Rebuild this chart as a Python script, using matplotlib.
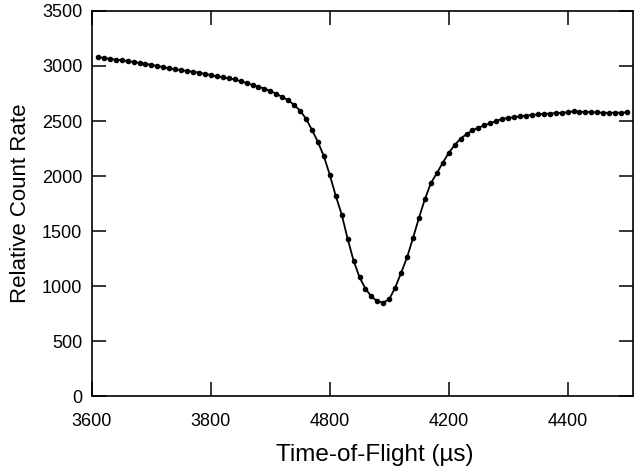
import matplotlib
matplotlib.use('Agg')
import matplotlib.pyplot as plt

# time of flight (us) and relative count rate
tof = [3610, 3620, 3630, 3640, 3650, 3660, 3670, 3680, 3690, 3700,
       3710, 3720, 3730, 3740, 3750, 3760, 3770, 3780, 3790, 3800,
       3810, 3820, 3830, 3840, 3850, 3860, 3870, 3880, 3890, 3900,
       3910, 3920, 3930, 3940, 3950, 3960, 3970, 3980, 3990, 4000,
       4010, 4020, 4030, 4040, 4050, 4060, 4070, 4080, 4090, 4100,
       4110, 4120, 4130, 4140, 4150, 4160, 4170, 4180, 4190, 4200,
       4210, 4220, 4230, 4240, 4250, 4260, 4270, 4280, 4290, 4300,
       4310, 4320, 4330, 4340, 4350, 4360, 4370, 4380, 4390, 4400,
       4410, 4420, 4430, 4440, 4450, 4460, 4470, 4480, 4490, 4500]
counts = [3085, 3072, 3065, 3058, 3052, 3045, 3037, 3028, 3020, 3010,
          3000, 2990, 2978, 2970, 2962, 2955, 2948, 2940, 2928, 2918,
          2905, 2898, 2888, 2878, 2862, 2845, 2828, 2810, 2795, 2772,
          2748, 2718, 2690, 2645, 2595, 2520, 2420, 2310, 2180, 2010,
          1820, 1650, 1430, 1230, 1080, 975, 905, 860, 850, 880,
          985, 1120, 1260, 1437, 1620, 1790, 1935, 2025, 2120, 2210,
          2280, 2340, 2380, 2415, 2440, 2460, 2480, 2500, 2520, 2528,
          2535, 2542, 2550, 2555, 2560, 2564, 2568, 2572, 2575, 2580,
          2588, 2585, 2582, 2580, 2578, 2575, 2573, 2576, 2575, 2580]

xticks = [3600, 3800, 4000, 4200, 4400]
xtick_labels = ['3600', '3800', '4800', '4200', '4400']
yticks = [0, 500, 1000, 1500, 2000, 2500, 3000, 3500]

plt.rcParams['font.family'] = ['Liberation Sans', 'DejaVu Sans']

fig = plt.figure(figsize=(6.34, 4.72), dpi=100)
ax = fig.add_axes([0.1451, 0.161, 0.8533, 0.8157])

# fit line plus measured points
ax.plot(tof, counts, '-', lw=1.3, color='k')
ax.plot(tof, counts, 'o', ms=3.0, color='k', mec='k')

ax.set_xlim(3600, 4510)
ax.set_ylim(0, 3500)
ax.set_xticks(xticks)
ax.set_xticklabels(xtick_labels)
ax.set_yticks(yticks)

ax.tick_params(direction='in', length=10, width=1.1, top=True, right=True,
               labelsize=13, colors='k')
ax.tick_params(axis='x', pad=12)
ax.tick_params(axis='y', pad=7)
for sp in ax.spines.values():
    sp.set_linewidth(1.2)

ax.set_xlabel('Time-of-Flight (\u00b5s)', fontsize=17.5)
ax.xaxis.set_label_coords(0.522, -0.125)
ax.set_ylabel('Relative Count Rate', fontsize=16, labelpad=8)

fig.savefig('out.png', dpi=100)
